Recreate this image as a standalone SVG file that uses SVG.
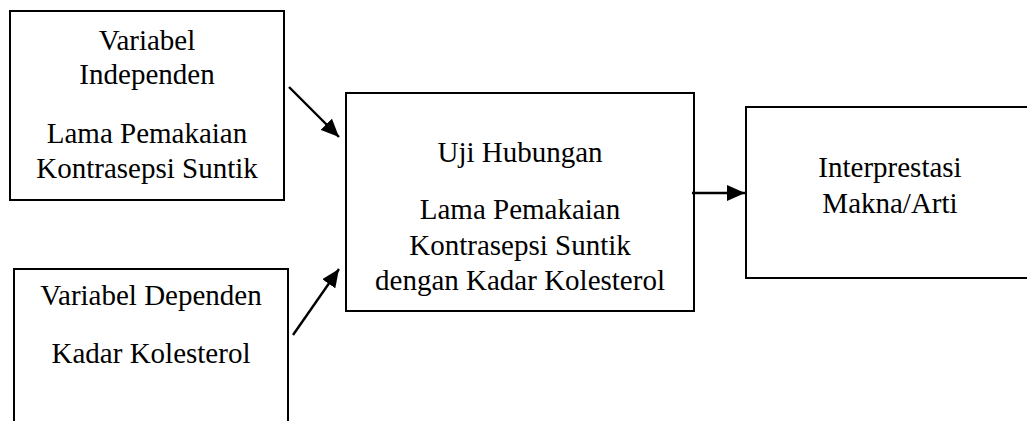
<svg xmlns="http://www.w3.org/2000/svg" width="1027" height="421" viewBox="0 0 1027 421">
<style>
.box{fill:#fff;stroke:#000;stroke-width:2}
.t{font-family:"Liberation Serif","Times New Roman",serif;font-size:29px;fill:#000;text-anchor:middle}
.c{stroke:#000;stroke-width:2.4;fill:none}
</style>
<defs>
<marker id="ah" markerUnits="userSpaceOnUse" markerWidth="20" markerHeight="16" refX="18" refY="8" orient="auto">
<path d="M0,0 L18,8 L0,16 Z" fill="#000"/>
</marker>
</defs>
<rect width="1027" height="421" fill="#fff"/>
<g id="node-independen">
<rect class="box" x="10" y="11" width="274" height="189"/>
<text class="t" x="147" y="50">Variabel</text>
<text class="t" x="147" y="84">Independen</text>
<text class="t" x="147" y="143">Lama Pemakaian</text>
<text class="t" x="147" y="178">Kontrasepsi Suntik</text>
</g>
<g id="node-dependen">
<rect class="box" x="14" y="269" width="274" height="170"/>
<text class="t" x="151" y="305">Variabel Dependen</text>
<text class="t" x="151" y="363">Kadar Kolesterol</text>
</g>
<g id="node-uji">
<rect class="box" x="346" y="93" width="348" height="218"/>
<text class="t" x="520" y="162">Uji Hubungan</text>
<text class="t" x="520" y="219">Lama Pemakaian</text>
<text class="t" x="520" y="255">Kontrasepsi Suntik</text>
<text class="t" x="520" y="290">dengan Kadar Kolesterol</text>
</g>
<g id="node-interpretasi">
<rect class="box" x="746" y="107" width="300" height="171"/>
<text class="t" x="890" y="177">Interprestasi</text>
<text class="t" x="890" y="213">Makna/Arti</text>
</g>
<g id="connectors">
<line class="c" x1="289" y1="87" x2="339" y2="137" marker-end="url(#ah)"/>
<line class="c" x1="293" y1="335" x2="339" y2="269" marker-end="url(#ah)"/>
<line class="c" x1="692" y1="193" x2="745" y2="193" marker-end="url(#ah)"/>
</g>
</svg>
